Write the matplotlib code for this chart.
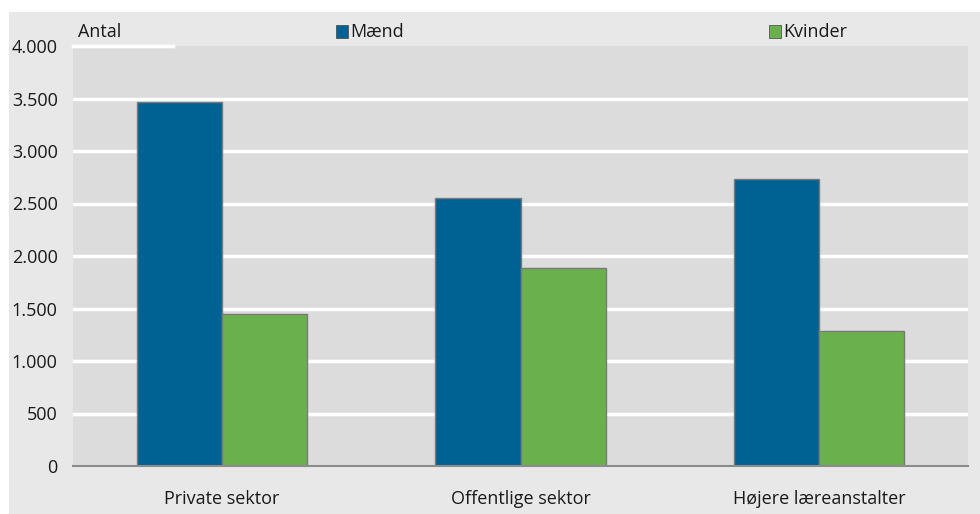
import numpy as np
import matplotlib
matplotlib.use('Agg')
import matplotlib.pyplot as plt
from matplotlib.patches import Rectangle

categories = ['Private sektor', 'Offentlige sektor', 'Højere læreanstalter']
maend = [3470, 2550, 2730]
kvinder = [1450, 1890, 1290]
yticks = [0, 500, 1000, 1500, 2000, 2500, 3000, 3500, 4000]
ytick_labels = ['0', '500', '1.000', '1.500', '2.000', '2.500', '3.000', '3.500', '4.000']

BLUE = '#006292'
GREEN = '#6ab04c'
plt.rcParams['font.family'] = ['Open Sans', 'DejaVu Sans']
FS = 13

W, H = 980, 514
fig = plt.figure(figsize=(W / 100, H / 100), dpi=100)
fig.patch.set_facecolor('white')
# grey panel behind the whole chart
fig.patches.append(Rectangle((9 / W, 0), 1 - 9 / W, (H - 12) / H, transform=fig.transFigure,
                             facecolor='#e8e8e8', edgecolor='none', zorder=-5))

ax = fig.add_axes([73 / W, (H - 466) / H, (968 - 73) / W, (466 - 46) / H])
ax.set_zorder(2)
ax.set_facecolor('#dcdcdc')

x = np.arange(len(categories))
w = 0.285
ax.bar(x - w / 2, maend, w, color=BLUE, edgecolor='#7a7a7a', linewidth=1, zorder=3)
ax.bar(x + w / 2, kvinder, w, color=GREEN, edgecolor='#7a7a7a', linewidth=1, zorder=3)

ax.set_xlim(-0.5, 2.5)
ax.set_ylim(0, 4000)
for v in yticks[1:-1]:
    ax.axhline(v, color='white', linewidth=2.5, zorder=1)
# only a stub of the top gridline is visible
ax.axhline(4000, xmin=0, xmax=100 / 895, color='white', linewidth=2.5, zorder=4, clip_on=False)

ax.set_yticks(yticks)
ax.set_yticklabels(ytick_labels)
ax.set_xticks(x)
ax.set_xticklabels(categories)
ax.tick_params(axis='both', length=0, labelsize=FS, colors='#1a1a1a')
ax.tick_params(axis='y', pad=11)
ax.tick_params(axis='x', pad=17)
for s in ['top', 'right', 'left']:
    ax.spines[s].set_visible(False)
ax.spines['bottom'].set_color('#8c8c8c')
ax.spines['bottom'].set_linewidth(1.5)
ax.spines['bottom'].set_zorder(5)

# header strip text and legend
fig.text(78 / W, 1 - 32 / H, 'Antal', fontsize=FS, va='center', ha='left', color='#1a1a1a')
for px, col, lab in [(336, BLUE, 'Mænd'), (769, GREEN, 'Kvinder')]:
    fig.patches.append(Rectangle((px / W, 1 - 38 / H), 12 / W, 13 / H, transform=fig.transFigure,
                                 facecolor=col, edgecolor='#555555', linewidth=0.6, zorder=2))
    fig.text((px + 14) / W, 1 - 32 / H, lab, fontsize=FS, va='center', ha='left', color='#1a1a1a')

fig.savefig('out.png', dpi=100)
